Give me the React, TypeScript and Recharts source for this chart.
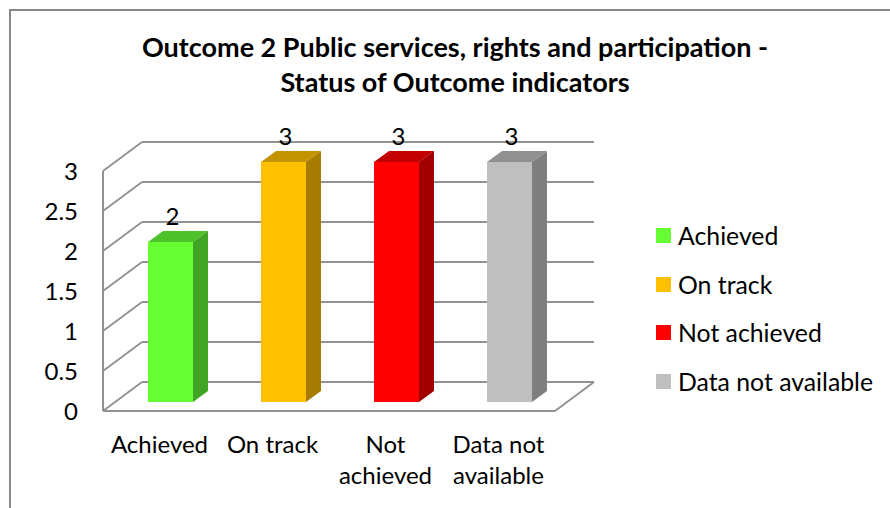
import { Bar, BarChart, CartesianGrid, LabelList, Legend, ReferenceLine, XAxis, YAxis } from "recharts";

const categories = ["Achieved", "On track", "Not achieved", "Data not available"];
const counts = [2, 3, 3, 3];
const xTickLines = [["Achieved"], ["On track"], ["Not", "achieved"], ["Data not", "available"]];
const yTicks = [0, 0.5, 1, 1.5, 2, 2.5, 3];
const titleLines = ["Outcome 2 Public services, rights and participation -", "Status of Outcome indicators"];

const frontColors = ["#66FF33", "#FFC000", "#FF0000", "#BFBFBF"];
const topColors = ["#4EC22B", "#C39300", "#C20000", "#909090"];
const sideColors = ["#40A424", "#A67D00", "#A20000", "#7F7F7F"];

const FONT = "Lato, 'Noto Sans', sans-serif";
const GRID = "#929292";
// wall depth and bar placement inside the depth
const WALL_DX = 39;
const WALL_DY = 29;
const BAR_DX = 11;
const BAR_DY = 9;
const BAR_DEPTH_X = 15;
const BAR_DEPTH_Y = 11;

const data = categories.map((name, i) => ({ name, value: counts[i] }));

function WallLine(props: any) {
  const { x1, x2, y1 } = props;
  return (
    <g>
      <line x1={x1} y1={y1} x2={x1 + WALL_DX} y2={y1 - WALL_DY} stroke={GRID} strokeWidth={2} />
      <line x1={x1 + WALL_DX} y1={y1 - WALL_DY} x2={x2 + WALL_DX} y2={y1 - WALL_DY} stroke={GRID} strokeWidth={2} />
    </g>
  );
}

function FloorEdge(props: any) {
  const { x2, y2 } = props;
  return <line x1={x2} y1={y2} x2={x2 + WALL_DX} y2={y2 - WALL_DY} stroke={GRID} strokeWidth={2} />;
}

function Bar3D(props: any) {
  const { x, y, width, height, index } = props;
  const fx = x + BAR_DX;
  const fy = y - BAR_DY;
  const dx = BAR_DEPTH_X;
  const dy = BAR_DEPTH_Y;
  return (
    <g>
      <polygon
        points={`${fx},${fy} ${fx + dx},${fy - dy} ${fx + width + dx},${fy - dy} ${fx + width},${fy}`}
        fill={topColors[index]}
      />
      <polygon
        points={`${fx + width},${fy} ${fx + width + dx},${fy - dy} ${fx + width + dx},${fy + height - dy} ${fx + width},${fy + height}`}
        fill={sideColors[index]}
      />
      <rect x={fx} y={fy} width={width} height={height} fill={frontColors[index]} />
    </g>
  );
}

function BarLabel(props: any) {
  const { x, y, width, value } = props;
  return (
    <text x={x + width / 2 + BAR_DX + 2} y={y - 26} textAnchor="middle" fontSize={24} fontFamily={FONT} fill="#000">
      {value}
    </text>
  );
}

function XTick(props: any) {
  const { x, y, index } = props;
  const lines = xTickLines[index] ?? [];
  return (
    <g>
      {lines.map((line, i) => (
        <text key={i} x={x} y={y + 34 + i * 31} textAnchor="middle" fontSize={24} fontFamily={FONT} fill="#000">
          {line}
        </text>
      ))}
    </g>
  );
}

function LegendBox() {
  return (
    <div style={{ fontFamily: FONT, fontSize: 24.8, color: "#000" }}>
      {categories.map((name, i) => (
        <div key={name} style={{ display: "flex", alignItems: "center", height: 48.7 }}>
          <span style={{ width: 15, height: 15, background: frontColors[i], marginRight: 7, display: "inline-block" }} />
          <span>{name}</span>
        </div>
      ))}
    </div>
  );
}

export default function App() {
  return (
    <div style={{ position: "absolute", left: 0, top: 0, width: 890, height: 508, background: "#fff", overflow: "hidden" }}>
      <div
        style={{
          position: "absolute",
          left: 9,
          top: 9,
          width: 900,
          height: 520,
          borderLeft: "2px solid #888",
          borderTop: "2px solid #888",
        }}
      />
      {titleLines.map((line, i) => (
        <div
          key={i}
          style={{
            position: "absolute",
            left: 0,
            width: 910,
            top: 32 + i * 35,
            textAlign: "center",
            fontFamily: FONT,
            fontWeight: 700,
            fontSize: 27,
            lineHeight: "30px",
            whiteSpace: "nowrap",
            color: "#000",
          }}
        >
          {line}
        </div>
      ))}
      <BarChart width={890} height={508} data={data} margin={{ top: 171, right: 335, bottom: 37, left: 43 }}>
        <CartesianGrid vertical={false} horizontal={WallLine} />
        <ReferenceLine y={0} shape={FloorEdge} />
        <XAxis
          dataKey="name"
          height={60}
          axisLine={{ stroke: GRID, strokeWidth: 2 }}
          tickLine={false}
          interval={0}
          tick={XTick}
        />
        <YAxis
          width={60}
          domain={[0, 3]}
          ticks={yTicks}
          axisLine={{ stroke: GRID, strokeWidth: 2 }}
          tickLine={false}
          tickMargin={19}
          tick={{ fill: "#000", fontSize: 24, fontFamily: FONT }}
        />
        <Legend
          layout="vertical"
          align="center"
          verticalAlign="middle"
          wrapperStyle={{ left: 656, top: 211, width: 234 }}
          content={LegendBox}
        />
        <Bar dataKey="value" barSize={45} shape={Bar3D} isAnimationActive={false}>
          <LabelList dataKey="value" content={BarLabel} />
        </Bar>
      </BarChart>
    </div>
  );
}
